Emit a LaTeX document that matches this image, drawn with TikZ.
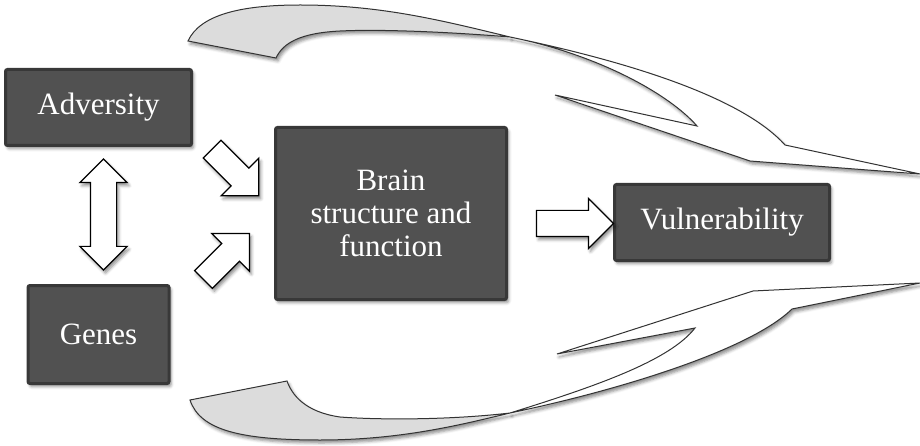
\documentclass[tikz,border=0pt]{standalone}
\usepackage{fontspec}
\setmainfont{Liberation Serif}
\usetikzlibrary{positioning,shapes.arrows,shadows.blur}

\definecolor{boxfill}{HTML}{515151}
\definecolor{boxline}{HTML}{383838}
\definecolor{backface}{HTML}{DCDCDC}

\begin{document}
\begin{tikzpicture}
  [x=1pt,y=-1pt,on grid,
   font=\fontsize{31}{33}\selectfont,
   soft shadow/.style={blur shadow={shadow xshift=2pt,shadow yshift=-3pt,
       shadow blur radius=3pt,shadow opacity=45}},
   factor/.style={rectangle,draw=boxline,line width=3pt,fill=boxfill,
       text=white,rounded corners=2pt,align=center,inner sep=0pt,soft shadow},
   block arrow/.style={single arrow,draw=black,line width=1.2pt,fill=white,
       inner xsep=0pt,inner ysep=12.5pt,single arrow head extend=12pt,soft shadow},
   both arrow/.style={double arrow,draw=black,line width=1.2pt,fill=white,
       inner xsep=0pt,inner ysep=12.5pt,double arrow head extend=10.5pt,soft shadow},
   loop back/.style={draw=black!80,line width=1pt,fill=backface,soft shadow},
   loop front/.style={draw=black!80,line width=1pt,fill=white,soft shadow}]

  \useasboundingbox (0,0) rectangle (920,446);

  % feedback ribbons
  \path [loop back] (188,41) .. controls (200,15) and (240,5) .. (300,5)
    .. controls (380,5) and (440,20) .. (510,37)
    .. controls (450,32) and (380,29) .. (340,31)
    .. controls (300,33) and (283,43) .. (276,58) -- cycle;
  \path [loop front] (510,37) .. controls (620,60) and (740,95) .. (785,145)
    -- (920,174) -- (750,161) -- (555,95) -- (697,126)
    .. controls (670,95) and (600,55) .. (510,37) -- cycle;

  \path [loop back] (190,400) .. controls (200,430) and (240,440) .. (320,440)
    .. controls (400,440) and (460,425) .. (510,413)
    .. controls (450,420) and (380,420) .. (340,417)
    .. controls (305,412) and (292,395) .. (287,381) -- cycle;
  \path [loop front] (510,413) .. controls (620,390) and (750,350) .. (792,309)
    -- (920,283) -- (753,291) -- (557,354) -- (695,328)
    .. controls (670,360) and (600,385) .. (510,413) -- cycle;

  % factors
  \node [factor,minimum width=231pt,minimum height=172pt]
    (brain) at (391,213.5) {Brain\\structure and\\function};
  \node [factor,minimum width=186pt,minimum height=76pt]
    (adv) [above left=106pt and 292.5pt of brain] {Adversity};
  \node [factor,minimum width=141pt,minimum height=98pt]
    (gen) [below=227pt of adv] {Genes};
  \node [factor,minimum width=215pt,minimum height=76pt]
    (vul) [right=331pt of brain,yshift=-9pt] {Vulnerability};

  % block arrows
  \node [both arrow,rotate=90,minimum height=111pt] (ag) at (103.5,214.5) {};
  \node [block arrow,rotate=-45,minimum height=66pt,inner ysep=12pt,
    single arrow head extend=14pt] (a1) at (231,168) {};
  \node [block arrow,rotate=45,minimum height=65pt,inner ysep=12pt,
    single arrow head extend=14pt] (a2) at (222,261) {};
  \node [block arrow,minimum height=77pt] (a3) at (568.5,223.5) {};

\end{tikzpicture}
\end{document}
